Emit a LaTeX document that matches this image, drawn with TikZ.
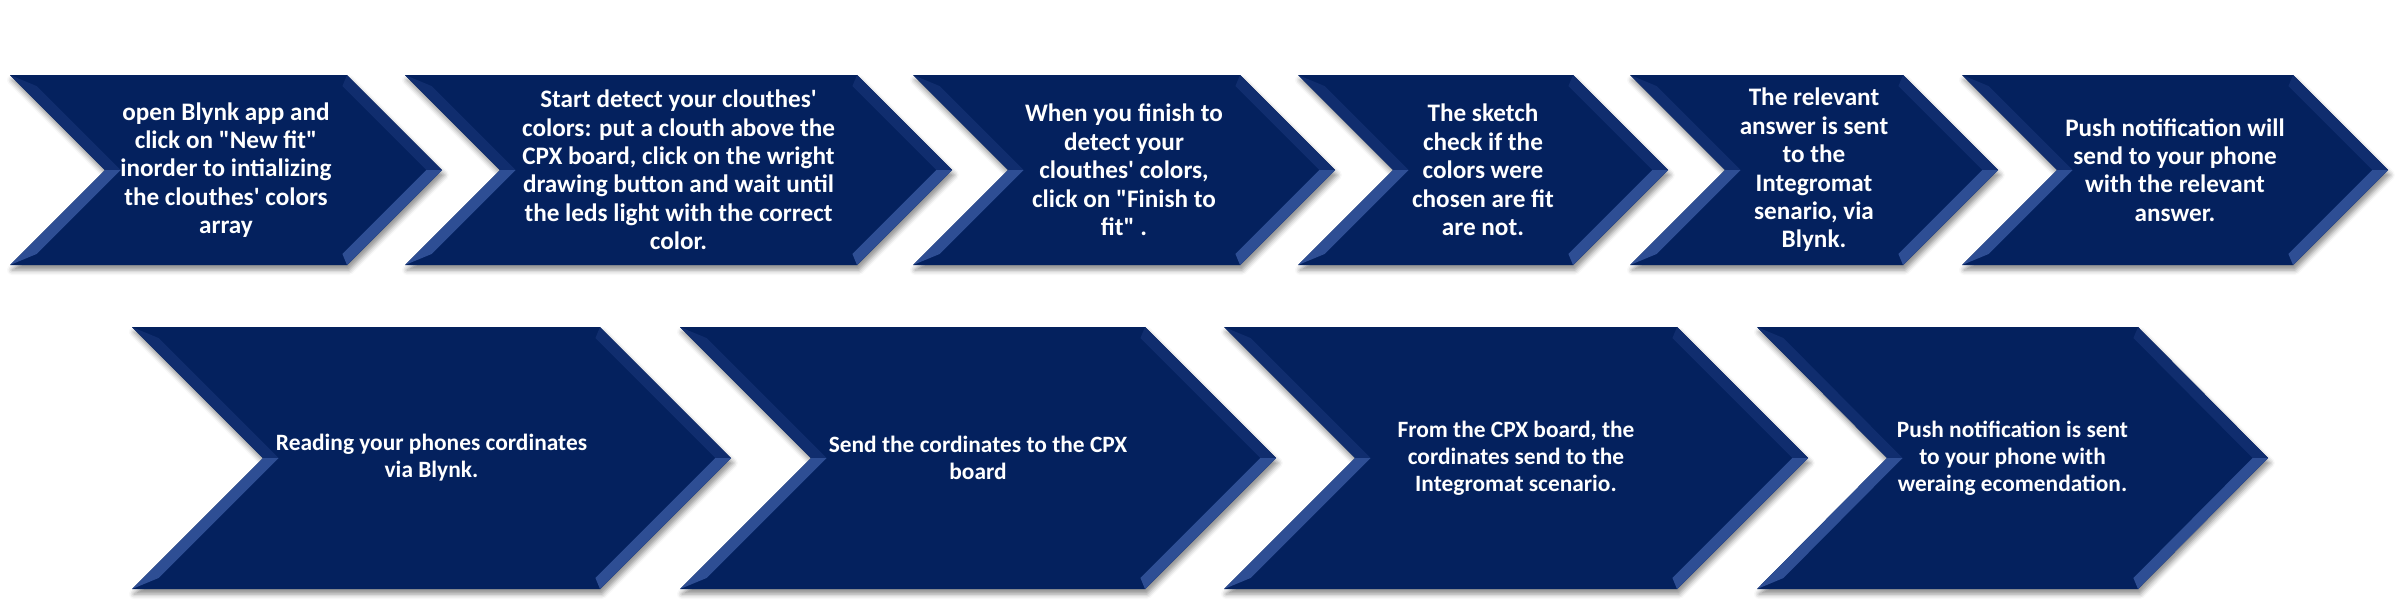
\documentclass[tikz,border=0pt]{standalone}
\usepackage{fontspec}
\setmainfont{Carlito}[Ligatures=TeXOff]
\usepackage{tikz}
\usetikzlibrary{shadows.blur}

\definecolor{navy}{RGB}{4,33,94}
\definecolor{bevellight}{RGB}{46,78,148}
\definecolor{bevelmid}{RGB}{16,45,110}

\begin{document}
\begin{tikzpicture}[
  x=0.5pt, y=-0.5pt,
  body/.style={fill=navy, blur shadow={shadow xshift=1pt, shadow yshift=-2.5pt,
               shadow blur radius=2.5pt, shadow opacity=45}},
  edgeup/.style={fill=bevelmid},
  edgelow/.style={fill=bevellight},
  steptext/.style={text=white, align=center, inner sep=0pt},
  bw/.store in=\bw, bw=11
]

\useasboundingbox (0,0) rectangle (2400,612);

% --- Chevrons: name / left / top-right / top / bottom / depth / font size / line skip / text ---
\foreach \nm/\lx/\rx/\ty/\by/\dep/\fs/\ls/\txt in {
  top1/10/347/75/265/95/12.6/14.2/{open Blynk app and\\click on "New fit"\\inorder to intializing\\the clouthes' colors\\array},
  top2/405/857/75/265/95/12.6/14.2/{Start detect your clouthes'\\colors: put a clouth above the\\CPX board, click on the wright\\drawing button and wait until\\the leds light with the correct\\color.},
  top3/913/1240/75/265/95/12.6/14.2/{When you finish to\\detect your\\clouthes' colors,\\click on "Finish to\\fit" .},
  top4/1298/1573/75/265/95/12.6/14.2/{The sketch\\check if the\\colors were\\chosen are fit\\are not.},
  top5/1630/1903/75/265/95/12.6/14.2/{The relevant\\answer is sent\\to the\\Integromat\\senario, via\\Blynk.},
  top6/1962/2293/75/265/95/12.6/14.2/{Push notification will\\send to your phone\\with the relevant\\answer.},
  low1/132/600/327/589/131/11.7/13.5/{Reading your phones cordinates\\via Blynk.},
  low2/680/1145/327/589/131/11.7/13.5/{Send the cordinates to the CPX\\board},
  low3/1224/1677/327/589/131/11.7/13.5/{From the CPX board, the\\cordinates send to the\\Integromat scenario.},
  low4/1757/2138/327/589/130/11.7/13.5/{Push notification is sent\\to your phone with\\weraing ecomendation.}%
}{
  \pgfmathsetmacro\my{(\ty+\by)/2}
  \pgfmathsetmacro\sl{\dep/(\my-\ty)}
  \pgfmathsetmacro\hx{\bw*sqrt(1+\sl*\sl)}
  \pgfmathsetmacro\xa{\lx+\sl*\bw+\hx}
  \pgfmathsetmacro\xn{\lx+\dep+\hx}
  \pgfmathsetmacro\xr{\rx+\sl*\bw-\hx}
  \pgfmathsetmacro\xt{\rx+\dep-\hx}
  \pgfmathsetmacro\iT{\ty+\bw}
  \pgfmathsetmacro\iB{\by-\bw}
  % body with shadow
  \path[body] (\lx,\ty) -- (\rx,\ty) -- (\rx+\dep,\my) -- (\rx,\by) -- (\lx,\by)
    -- (\lx+\dep,\my) -- cycle;
  % bevelled slanted edges
  \fill[edgeup] (\lx,\ty) -- (\lx+\dep,\my) -- (\xn,\my) -- (\xa,\iT) -- cycle;
  \fill[edgelow] (\lx+\dep,\my) -- (\lx,\by) -- (\xa,\iB) -- (\xn,\my) -- cycle;
  \fill[edgeup] (\rx,\ty) -- (\rx+\dep,\my) -- (\xt,\my) -- (\xr,\iT) -- cycle;
  \fill[edgelow] (\rx+\dep,\my) -- (\rx,\by) -- (\xr,\iB) -- (\xt,\my) -- cycle;
  % step text
  \node[steptext, font=\fontsize{\fs}{\ls}\selectfont\bfseries] (\nm)
    at ({(\lx+\dep+\rx)/2},\my) {\txt};
}

\end{tikzpicture}
\end{document}
